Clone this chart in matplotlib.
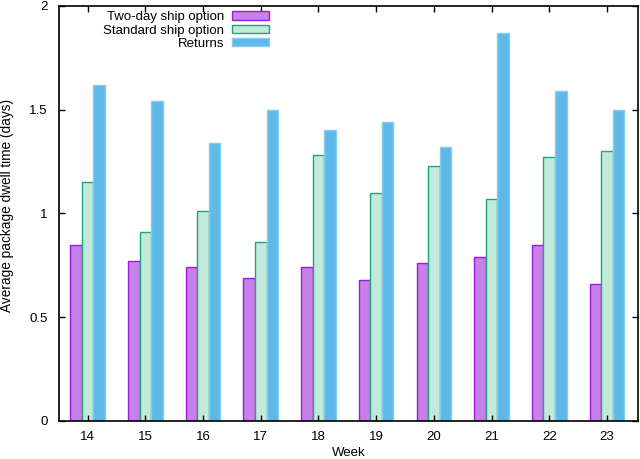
import numpy as np
import matplotlib
matplotlib.use("Agg")
import matplotlib.pyplot as plt
from matplotlib.ticker import FuncFormatter

# ── data ──
weeks = ["14", "15", "16", "17", "18", "19", "20", "21", "22", "23"]
two_day = [0.85, 0.77, 0.74, 0.69, 0.74, 0.68, 0.76, 0.79, 0.85, 0.66]
standard = [1.15, 0.91, 1.01, 0.86, 1.28, 1.10, 1.23, 1.07, 1.27, 1.30]
returns = [1.62, 1.54, 1.34, 1.50, 1.40, 1.44, 1.32, 1.87, 1.59, 1.50]

plt.rcParams.update({
    "font.family": ["Liberation Sans", "DejaVu Sans"],
    "font.size": 9.5,
})

fig = plt.figure(figsize=(6.4, 4.59), dpi=100)
ax = fig.add_axes([0.092, 0.083, 0.905, 0.904])

x = np.arange(len(weeks))
w = 0.2
ax.bar(x - w, two_day, w, color="#c77fe9", edgecolor="#9a1ed8", linewidth=1.0,
       label="Two-day ship option")
ax.bar(x, standard, w, color="#c2eadb", edgecolor="#22a37f", linewidth=1.0,
       label="Standard ship option")
ax.bar(x + w, returns, w, color="#5eb8e8", edgecolor="#86ccef", linewidth=1.0,
       label="Returns")

ax.set_xlim(-0.5, len(weeks) - 0.46)
ax.set_ylim(0, 2)
ax.set_xticks(x)
ax.set_xticklabels(weeks)
ax.set_yticks([0, 0.5, 1, 1.5, 2])
ax.yaxis.set_major_formatter(FuncFormatter(lambda v, p: f"{v:g}"))
ax.tick_params(direction="in", top=True, right=True, length=4, width=1.0,
               colors="black")
ax.tick_params(axis="x", pad=7)
ax.tick_params(axis="y", pad=8)
for s in ax.spines.values():
    s.set_linewidth(1.2)

ax.set_xlabel("Week", labelpad=3)
ax.set_ylabel("Average package dwell time (days)", fontsize=9.8)
ax.yaxis.set_label_coords(-0.078, 0.52)

leg = ax.legend(loc="upper right", bbox_to_anchor=(0.383, 1.016), frameon=False,
                markerfirst=False, handlelength=2.8, handleheight=0.6,
                handletextpad=0.6, labelspacing=0.1, fontsize=9.5)

fig.savefig("out.png", dpi=100)
plt.close(fig)
